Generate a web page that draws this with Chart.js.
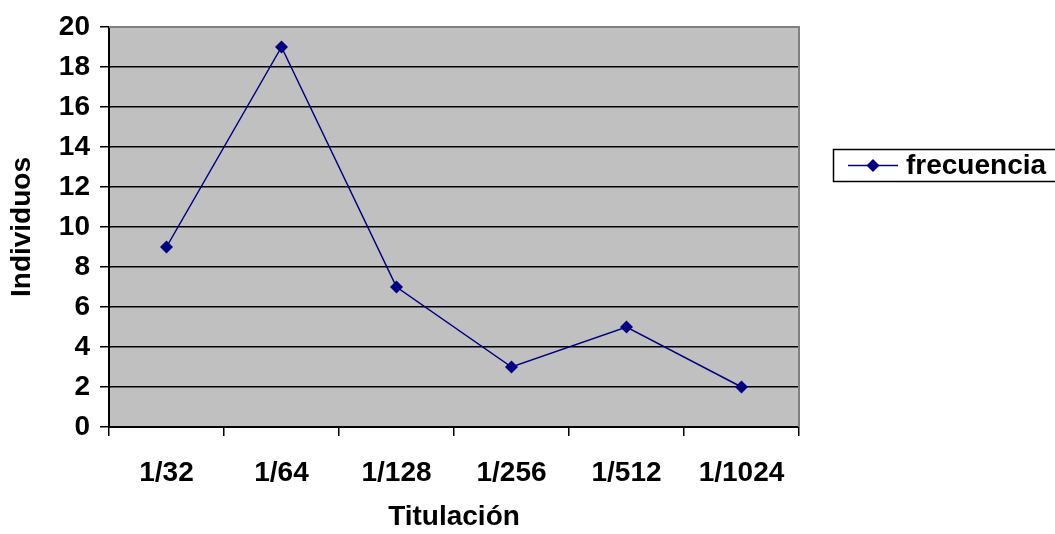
<!DOCTYPE html>
<html>
<head>
<meta charset="utf-8">
<script src="https://cdn.jsdelivr.net/npm/chart.js@4.4.0/dist/chart.umd.min.js"></script>
<style>
  html, body { margin: 0; padding: 0; background: #fff; }
  #wrap { width: 1055px; height: 534px; position: relative; }
</style>
</head>
<body>
<div id="wrap"><canvas id="grafico"></canvas></div>
<script>
const titulaciones = ['1/32', '1/64', '1/128', '1/256', '1/512', '1/1024'];
const frecuencias = [9, 19, 7, 3, 5, 2];
const etiquetaSerie = 'frecuencia';
const yMax = 20;
const yPaso = 2;

const fuente = { family: 'Arial, "Liberation Sans", sans-serif', weight: 'bold', size: 28, lineHeight: 1.2 };

// fondo gris del area de trazado y borde gris arriba/derecha
const fondoArea = {
  id: 'fondoArea',
  beforeDraw(chart) {
    const { ctx, chartArea: a } = chart;
    ctx.save();
    ctx.fillStyle = '#c0c0c0';
    ctx.fillRect(a.left, a.top, a.right - a.left, a.bottom - a.top);
    ctx.restore();
  },
  beforeDatasetsDraw(chart) {
    const { ctx, chartArea: a } = chart;
    ctx.save();
    ctx.strokeStyle = '#808080';
    ctx.lineWidth = 2;
    ctx.beginPath();
    ctx.moveTo(a.left, a.top);
    ctx.lineTo(a.right, a.top);
    ctx.lineTo(a.right, a.bottom);
    ctx.stroke();
    ctx.restore();
  }
};

// leyenda con recuadro, como la original
const leyendaCaja = {
  id: 'leyendaCaja',
  afterDraw(chart) {
    const { ctx } = chart;
    const ds = chart.data.datasets[0];
    const x = 833.5, y = 149.5, w = 240, h = 32;
    const cy = y + h / 2;
    ctx.save();
    ctx.fillStyle = '#fff';
    ctx.fillRect(x, y, w, h);
    ctx.strokeStyle = '#000';
    ctx.lineWidth = 1.5;
    ctx.strokeRect(x, y, w, h);
    ctx.strokeStyle = ds.borderColor;
    ctx.lineWidth = 1.5;
    ctx.beginPath();
    ctx.moveTo(848, cy);
    ctx.lineTo(898, cy);
    ctx.stroke();
    ctx.fillStyle = ds.backgroundColor;
    ctx.beginPath();
    ctx.moveTo(873, cy - 6.5);
    ctx.lineTo(879.5, cy);
    ctx.lineTo(873, cy + 6.5);
    ctx.lineTo(866.5, cy);
    ctx.closePath();
    ctx.fill();
    ctx.fillStyle = '#000';
    ctx.font = 'bold 28px Arial, "Liberation Sans", sans-serif';
    ctx.textBaseline = 'middle';
    ctx.fillText(ds.label, 906, cy + 1);
    ctx.restore();
  }
};

new Chart(document.getElementById('grafico').getContext('2d'), {
  type: 'line',
  plugins: [fondoArea, leyendaCaja],
  data: {
    labels: titulaciones,
    datasets: [{
      label: etiquetaSerie,
      data: frecuencias,
      borderColor: '#000080',
      backgroundColor: '#000080',
      borderWidth: 1.5,
      tension: 0,
      pointStyle: 'rectRot',
      pointRadius: 6.5,
      pointBorderWidth: 0,
      pointBackgroundColor: '#000080'
    }]
  },
  options: {
    responsive: true,
    maintainAspectRatio: false,
    animation: false,
    layout: { padding: { top: 27, right: 256, left: 0, bottom: 0 } },
    plugins: { legend: { display: false }, tooltip: { enabled: false } },
    scales: {
      x: {
        offset: true,
        grid: { offset: true, drawOnChartArea: false, drawTicks: true, tickLength: 9, color: '#000', tickColor: '#000', lineWidth: 1.5 },
        border: { color: '#000', width: 2 },
        ticks: { color: '#000', font: fuente, padding: 20, maxRotation: 0 },
        title: { display: true, text: 'Titulación', color: '#000', font: fuente, padding: { top: 0, bottom: 0 } },
        afterFit(scale) { scale.height = 107; }
      },
      y: {
        min: 0,
        max: yMax,
        grid: {
          color: (c) => (c.tick && c.tick.value === yMax ? 'rgba(0,0,0,0)' : '#000'),
          tickColor: '#000',
          tickLength: 9,
          lineWidth: 1.5
        },
        border: { color: '#000', width: 2 },
        ticks: { stepSize: yPaso, color: '#000', font: fuente, padding: 10 },
        title: { display: true, text: 'Individuos', color: '#000', font: fuente, padding: { top: 5, bottom: 0 } },
        afterFit(scale) { scale.width = 109; }
      }
    }
  }
});
</script>
</body>
</html>
